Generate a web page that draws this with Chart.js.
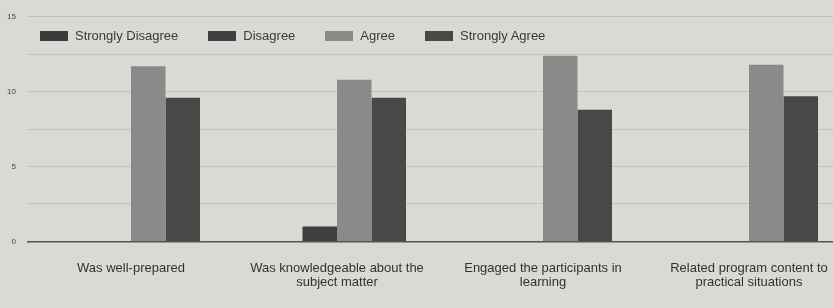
<!DOCTYPE html>
<html>
<head>
<meta charset="utf-8">
<script src="https://cdn.jsdelivr.net/npm/chart.js@4.4.1/dist/chart.umd.min.js"></script>
<style>
  html, body { margin: 0; padding: 0; overflow: hidden; background: #d9d9d5; }
  #wrap { position: relative; width: 852px; height: 308px; }
  #legend { position: absolute; left: 40px; top: 28px; display: flex; font: 13px "Liberation Sans", Arial, sans-serif; color: #3a3a3a; }
  #legend span.item { display: flex; align-items: center; margin-right: 30px; }
  #legend span.box { display: inline-block; width: 28px; height: 10px; margin-right: 7px; }
</style>
</head>
<body>
<div id="wrap">
  <canvas id="chart" width="852" height="308"></canvas>
  <div id="legend"></div>
</div>
<script>
"use strict";
// data
var categories = [
    ['Was well-prepared', ''],
    ['Was knowledgeable about the', 'subject matter'],
    ['Engaged the participants in', 'learning'],
    ['Related program content to', 'practical situations']
];
var seriesNames = ['Strongly Disagree', 'Disagree', 'Agree', 'Strongly Agree'];
var stronglyDisagree = [0, 0, 0, 0];
var disagree = [0, 1, 0, 0];
var agree = [11.7, 10.8, 12.4, 11.8];
var stronglyAgree = [9.6, 9.6, 8.8, 9.7];
var yTicks = [0, 5, 10, 15];

var colors = ['#3b3b3b', '#3f3f3f', '#8a8a88', '#484846'];
var values = [stronglyDisagree, disagree, agree, stronglyAgree];

var datasets = seriesNames.map(function (name, i) {
    return {
        label: name,
        data: values[i],
        backgroundColor: colors[i],
        borderWidth: 0,
        barPercentage: 1.0,
        categoryPercentage: 0.67
    };
});

// legend drawn as html so it can sit over the plot like the original
var legend = document.getElementById('legend');
seriesNames.forEach(function (name, i) {
    var item = document.createElement('span');
    item.className = 'item';
    var box = document.createElement('span');
    box.className = 'box';
    box.style.background = colors[i];
    item.appendChild(box);
    item.appendChild(document.createTextNode(name));
    legend.appendChild(item);
});

var ctx = document.getElementById('chart');
new Chart(ctx, {
    type: 'bar',
    data: { labels: categories, datasets: datasets },
    options: {
        responsive: false,
        animation: false,
        layout: { padding: { top: 0, right: 0, left: 4, bottom: 6 } },
        plugins: { legend: { display: false }, tooltip: { enabled: false } },
        scales: {
            x: {
                grid: { display: false },
                border: { color: '#555', width: 1.5 },
                ticks: {
                    color: '#333',
                    padding: 12,
                    maxRotation: 0,
                    autoSkip: false,
                    font: { family: '"Liberation Sans", Arial, sans-serif', size: 13, lineHeight: 1.1 }
                }
            },
            y: {
                min: 0,
                max: 15,
                afterFit: function (axis) { axis.width = 24; },
                grid: { color: '#c2c2be', lineWidth: 1, drawTicks: false },
                border: { display: false },
                ticks: {
                    stepSize: 2.5,
                    padding: 12,
                    color: '#444',
                    font: { family: '"Liberation Sans", Arial, sans-serif', size: 8 },
                    callback: function (v) { return yTicks.indexOf(v) >= 0 ? v : ''; }
                }
            }
        }
    }
});
</script>
</body>
</html>
